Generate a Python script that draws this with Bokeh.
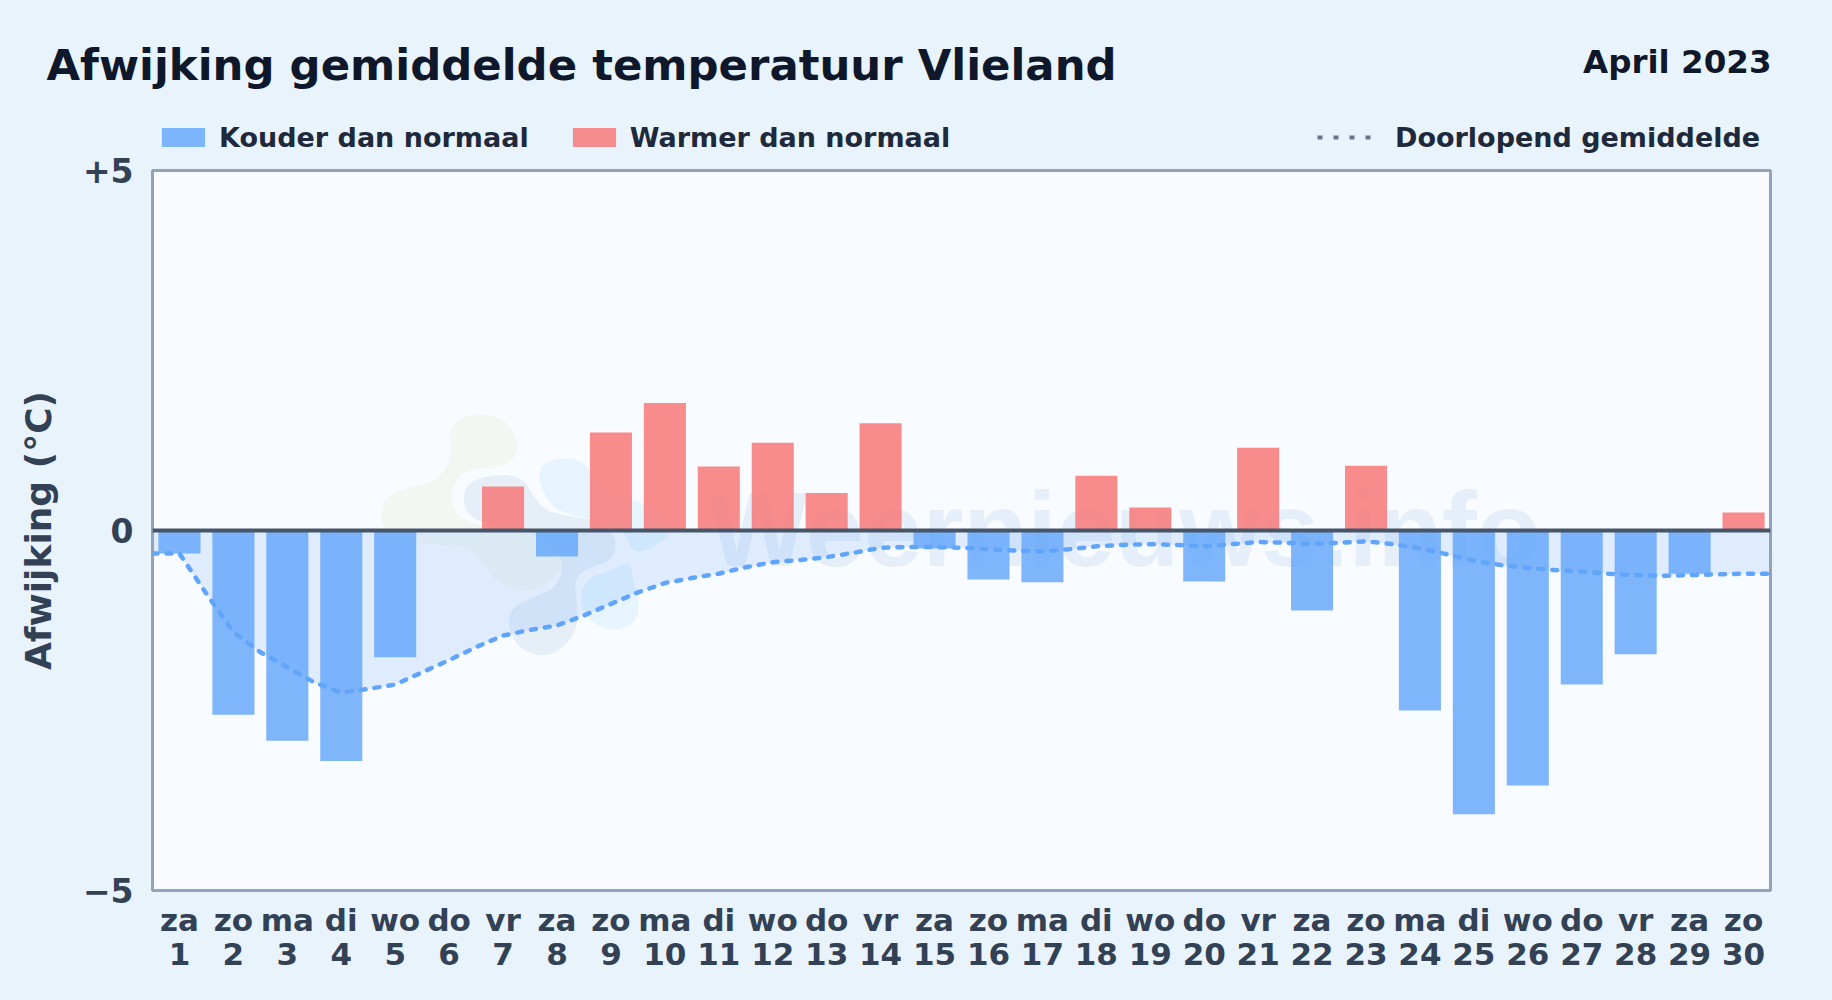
from bokeh.embed import file_html
from bokeh.resources import INLINE
from bokeh.layouts import column
from bokeh.plotting import figure
from bokeh.models import (ColumnDataSource, FixedTicker, Label, Legend, LegendItem, Range1d,
                          PolyAnnotation, GlobalInlineStyleSheet)

weekdays = ["za","zo","ma","di","wo","do","vr","za","zo","ma","di","wo","do","vr","za",
            "zo","ma","di","wo","do","vr","za","zo","ma","di","wo","do","vr","za","zo"]
days = list(range(1, 31))
afwijking = [-0.32,-2.56,-2.92,-3.20,-1.76,0.0,0.61,-0.36,1.36,1.77,0.89,1.22,0.52,1.49,-0.25,
             -0.68,-0.72,0.76,0.32,-0.71,1.15,-1.11,0.90,-2.50,-3.94,-3.54,-2.14,-1.72,-0.60,0.25]
gemiddelde_x = [d/2 for d in range(1, 62)]
gemiddelde = [-0.32,-0.32,-0.88,-1.41,-1.69,-1.90,-2.11,-2.25,-2.20,-2.14,-1.97,-1.80,-1.62,-1.46,-1.38,
              -1.32,-1.18,-1.02,-0.86,-0.73,-0.66,-0.60,-0.51,-0.44,-0.41,-0.37,-0.31,-0.24,-0.23,-0.23,
              -0.24,-0.26,-0.28,-0.29,-0.26,-0.22,-0.20,-0.19,-0.20,-0.22,-0.19,-0.16,-0.17,-0.19,-0.17,
              -0.15,-0.19,-0.25,-0.33,-0.42,-0.48,-0.52,-0.55,-0.57,-0.60,-0.62,-0.63,-0.62,-0.61,-0.60,-0.60]

W, H = 1820, 990
HEAD = 154
F_L, F_R, F_T, F_B = 152, 1770, 170, 890

p = figure(width=W, height=H-HEAD, output_backend="svg", toolbar_location=None,
           x_range=Range1d(0.5, 30.5), y_range=Range1d(-5, 5), frame_align=False,
           min_border_left=F_L, min_border_right=W-F_R,
           min_border_top=F_T-HEAD, min_border_bottom=H-F_B)
p.stylesheets = [GlobalInlineStyleSheet(css="html,body{background:#e9f3fc;}")]
p.border_fill_alpha = 0
p.background_fill_color = "#f8fbff"
p.outline_line_color = "#94a3b8"
p.outline_line_width = 3
p.grid.visible = False

# screen units of annotations are measured from the frame's bottom-left corner
def sx(x): return x - F_L
def sy(y): return F_B - y

# watermark
def smooth(pts, n=3):
    for _ in range(n):
        out = []
        for i in range(len(pts)):
            a, b = pts[i], pts[(i+1) % len(pts)]
            out.append((0.75*a[0]+0.25*b[0], 0.75*a[1]+0.25*b[1]))
            out.append((0.25*a[0]+0.75*b[0], 0.25*a[1]+0.75*b[1]))
        pts = out
    return pts

def blob(zoom_pts, color, alpha):
    pts = smooth([(sx(360+x/3), sy(390+y/3)) for x, y in zoom_pts])
    p.add_layout(PolyAnnotation(xs=[a for a, _ in pts], ys=[b for _, b in pts],
                                xs_units="screen", ys_units="screen", level="underlay",
                                fill_color=color, fill_alpha=alpha, line_alpha=0))

blob([(60,370),(75,320),(130,295),(220,275),(265,225),(270,170),(265,120),(300,80),(370,68),(440,90),
      (475,160),(460,210),(400,232),(330,235),(285,265),(270,330),(300,390),(400,410),(520,430),(590,470),
      (610,510),(600,545),(540,595),(470,605),(400,570),(350,490),(300,465),(210,462),(130,455),(70,420)],
     "#d9e8b0", 0.16)
blob([(305,320),(330,270),(420,250),(490,265),(520,320),(560,365),(650,380),(730,395),(770,450),(755,510),
      (690,530),(640,560),(650,640),(650,720),(600,780),(540,800),(470,770),(440,700),(455,650),(520,620),
      (590,590),(610,520),(590,470),(500,420),(370,400),(320,370)],
     "#a9bfdc", 0.22)
blob([(530,260),(550,215),(620,200),(680,220),(700,280),(740,320),(840,330),(920,390),(930,430),(880,470),
      (820,490),(800,440),(760,400),(640,375),(570,350)],
     "#a8dcf8", 0.22)
blob([(660,610),(680,565),(750,540),(810,510),(815,560),(840,650),(820,700),(760,722),(700,700),(665,660)],
     "#a8dcf8", 0.22)
p.add_layout(Label(x=sx(708), y=sy(565-36), x_units="screen", y_units="screen", text="Weernieuws.info",
                   text_font="Liberation Sans", text_font_style="bold", text_font_size="105px",
                   text_color="#1e64b4", text_alpha=0.08, text_baseline="alphabetic", level="underlay"))

# running mean fill
p.varea(x=gemiddelde_x, y1=[0]*len(gemiddelde_x), y2=gemiddelde, fill_color="#60a5fa", fill_alpha=0.17)

# bars
cold = ColumnDataSource(dict(x=[d for d, v in zip(days, afwijking) if v < 0],
                             top=[v for v in afwijking if v < 0]))
warm = ColumnDataSource(dict(x=[d for d, v in zip(days, afwijking) if v > 0],
                             top=[v for v in afwijking if v > 0]))
BLUE, RED, MEAN_GREY = "#60a5fa", "#f87171", "#64748b"
p.vbar(x="x", top="top", bottom=0, width=0.78, source=cold, fill_color=BLUE, fill_alpha=0.8, line_alpha=0)
p.vbar(x="x", top="top", bottom=0, width=0.78, source=warm, fill_color=RED, fill_alpha=0.8, line_alpha=0)

# zero line
p.line(x=[0.5, 30.5], y=[0, 0], line_color="#475569", line_width=4)

# running mean line
p.line(x=gemiddelde_x, y=gemiddelde, line_color=BLUE, line_width=4.5, line_dash="5 9", line_cap="round")

# axes
xa = p.xaxis[0]
xa.ticker = FixedTicker(ticks=days)
xa.major_label_overrides = {d: f"{w}\n{d}" for d, w in zip(days, weekdays)}
xa.axis_line_alpha = 0
xa.major_tick_line_alpha = 0
xa.minor_tick_line_alpha = 0
xa.major_label_standoff = 5
xa.major_label_text_font = "DejaVu Sans"
xa.major_label_text_font_style = "bold"
xa.major_label_text_font_size = "31px"
xa.major_label_text_line_height = 0.95
xa.major_label_text_color = "#334155"

ya = p.yaxis[0]
ya.ticker = FixedTicker(ticks=[-5, 0, 5])
ya.major_label_overrides = {-5: "\u22125", 0: "0", 5: "+5"}
ya.axis_line_alpha = 0
ya.major_tick_line_alpha = 0
ya.minor_tick_line_alpha = 0
ya.major_label_standoff = 13
ya.major_label_text_font = "DejaVu Sans"
ya.major_label_text_font_style = "bold"
ya.major_label_text_font_size = "33px"
ya.major_label_text_color = "#334155"
ya.axis_label = "Afwijking (\u00b0C)"
ya.axis_label_text_font = "DejaVu Sans"
ya.axis_label_text_font_style = "bold"
ya.axis_label_text_font_size = "36px"
ya.axis_label_text_color = "#334155"
ya.axis_label_standoff = 21

# header band: title, month and legends (annotations inside a frame are clipped to it).
# Its range lies outside the data, so the renderers only feed the legend.
head = figure(width=W, height=HEAD, output_backend="svg", toolbar_location=None,
              x_range=Range1d(100, 101), y_range=Range1d(100, 101), frame_align=False,
              x_axis_location=None, y_axis_location=None, min_border=0)
head.border_fill_alpha = 0
head.background_fill_alpha = 0
head.outline_line_alpha = 0
head.grid.visible = False

r_cold = head.vbar(x="x", top="top", bottom=0, width=0.78, source=cold, fill_color=BLUE, fill_alpha=0.8, line_alpha=0)
r_warm = head.vbar(x="x", top="top", bottom=0, width=0.78, source=warm, fill_color=RED, fill_alpha=0.8, line_alpha=0)
r_mean = head.line(x=gemiddelde_x, y=gemiddelde, line_color=MEAN_GREY, line_width=4, line_dash="5 11")

common = dict(border_line_alpha=0, background_fill_alpha=0, padding=0, margin=0, orientation="horizontal",
              label_text_font="DejaVu Sans", label_text_font_style="bold", label_text_font_size="27px",
              label_text_color="#1e293b", glyph_height=24, label_height=24)
LEG_Y = HEAD - 152.5
head.add_layout(Legend(items=[LegendItem(label="Kouder dan normaal", renderers=[r_cold]),
                              LegendItem(label="Warmer dan normaal", renderers=[r_warm])],
                       location=(156, LEG_Y), glyph_width=54, spacing=38, label_standoff=9, **common), "center")
head.add_layout(Legend(items=[LegendItem(label="Doorlopend gemiddelde", renderers=[r_mean])],
                       location=(1317, LEG_Y), glyph_width=56, label_standoff=22, **common), "center")

head.add_layout(Label(x=46, y=HEAD-64, x_units="screen", y_units="screen",
                      text="Afwijking gemiddelde temperatuur Vlieland", text_font="DejaVu Sans",
                      text_font_style="bold", text_font_size="43.4px", text_color="#0f172a",
                      text_baseline="alphabetic"))
head.add_layout(Label(x=1771, y=HEAD-61, x_units="screen", y_units="screen", text="April 2023",
                      text_font="DejaVu Sans", text_font_style="bold", text_font_size="32.5px",
                      text_color="#0f172a", text_align="right", text_baseline="alphabetic"))

page = column(head, p, spacing=0)
open("out.html", "w").write(file_html(page, INLINE))
